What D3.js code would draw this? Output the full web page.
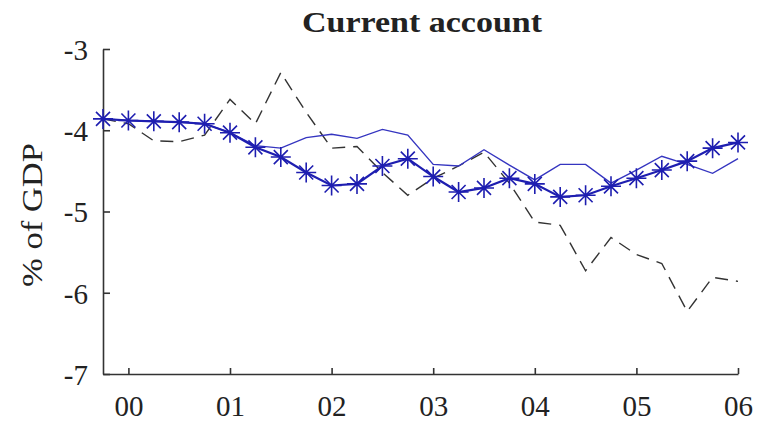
<!DOCTYPE html>
<html>
<head>
<meta charset="utf-8">
<script src="https://d3js.org/d3.v7.min.js"></script>
<style>
  body { margin: 0; background: #fff; }
  text { font-family: "Liberation Serif", "Times New Roman", Times, serif; fill: #222; }
  .axis path, .axis line { stroke: #333; stroke-width: 1.6px; }
</style>
</head>
<body>
<div id="chart"></div>
<script>
// quarterly dates, 1999Q4 .. 2006Q1
const quarters = [1999.75, 2000, 2000.25, 2000.5, 2000.75, 2001, 2001.25, 2001.5, 2001.75,
  2002, 2002.25, 2002.5, 2002.75, 2003, 2003.25, 2003.5, 2003.75, 2004, 2004.25, 2004.5,
  2004.75, 2005, 2005.25, 2005.5, 2005.75, 2006];

// starred blue series
const starSeries = [-3.86, -3.88, -3.89, -3.90, -3.92, -4.03, -4.21, -4.33, -4.52, -4.68,
  -4.66, -4.44, -4.35, -4.57, -4.76, -4.71, -4.59, -4.66, -4.82, -4.80, -4.69, -4.59,
  -4.49, -4.38, -4.22, -4.15];

// thin solid blue series
const solidSeries = [-3.86, -3.88, -3.89, -3.90, -3.92, -4.03, -4.19, -4.22, -4.09, -4.05,
  -4.10, -3.99, -4.06, -4.42, -4.44, -4.24, -4.43, -4.61, -4.42, -4.42, -4.65, -4.49,
  -4.32, -4.42, -4.53, -4.35];

// dashed black series
const dashedSeries = [-3.86, -3.92, -4.13, -4.14, -4.06, -3.62, -3.92, -3.29, -3.78, -4.22,
  -4.20, -4.52, -4.80, -4.59, -4.44, -4.27, -4.65, -5.13, -5.17, -5.73, -5.32, -5.53,
  -5.64, -6.23, -5.81, -5.86];

const xTicks = [2000, 2001, 2002, 2003, 2004, 2005, 2006];
const xTickLabels = ["00", "01", "02", "03", "04", "05", "06"];
const yTicks = [-7, -6, -5, -4, -3];

const W = 762, H = 421;
const margin = {top: 49, right: 24, bottom: 47, left: 103};
const serif = '"Liberation Serif", "Times New Roman", Times, serif';

const svg = d3.select("#chart").append("svg")
  .attr("width", W).attr("height", H);

const x = d3.scaleLinear().domain([1999.75, 2006]).range([margin.left, W - margin.right]);
const y = d3.scaleLinear().domain([-7, -3]).range([H - margin.bottom, margin.top]);

// axes (ticks pointing inward)
const xAxis = svg.append("g").attr("class", "axis")
  .attr("transform", `translate(0, ${y(-7)})`)
  .call(d3.axisBottom(x).tickValues(xTicks).tickSize(-6).tickSizeOuter(0)
    .tickFormat((d, i) => xTickLabels[i]));
xAxis.attr("font-family", serif);
xAxis.selectAll("text").style("font-family", serif)
  .attr("font-size", "29px").attr("dy", "0").attr("y", 42);

const yAxis = svg.append("g").attr("class", "axis")
  .attr("transform", `translate(${x(1999.75)}, 0)`)
  .call(d3.axisLeft(y).tickValues(yTicks).tickSize(-7).tickSizeOuter(0).tickFormat(d => String(d)));
yAxis.attr("font-family", serif);
yAxis.selectAll("text").style("font-family", serif)
  .attr("font-size", "29px").attr("x", -15).attr("dy", "0.36em");
svg.selectAll(".axis .domain").attr("fill", "none");

// lines
const pts = s => quarters.map((q, i) => [q, s[i]]);
const line = d3.line().x(d => x(d[0])).y(d => y(d[1]));

svg.append("path").datum(pts(dashedSeries))
  .attr("d", line).attr("fill", "none")
  .attr("stroke", "#333").attr("stroke-width", 1.4).attr("stroke-dasharray", "13,8");

svg.append("path").datum(pts(solidSeries))
  .attr("d", line).attr("fill", "none")
  .attr("stroke", "#3535c0").attr("stroke-width", 1.4);

svg.append("path").datum(pts(starSeries))
  .attr("d", line).attr("fill", "none")
  .attr("stroke", "#1e1eb0").attr("stroke-width", 2.2);

// asterisk markers
const star = (a, b) => `M${-a},0H${a}M0,${-a}V${a}M${-b},${-b}L${b},${b}M${-b},${b}L${b},${-b}`;
svg.append("g").selectAll("path")
  .data(pts(starSeries))
  .join("path")
    .attr("transform", d => `translate(${x(d[0])}, ${y(d[1])})`)
    .attr("d", star(10, 7))
    .attr("fill", "none")
    .attr("stroke", "#1e1eb0")
    .attr("stroke-width", 1.6);

// title and y label
svg.append("text")
  .style("font-family", serif)
  .attr("x", 422).attr("y", 32)
  .attr("text-anchor", "middle")
  .attr("font-size", "29px").attr("font-weight", "bold")
  .attr("textLength", 240).attr("lengthAdjust", "spacingAndGlyphs")
  .text("Current account");

svg.append("text")
  .style("font-family", serif)
  .attr("transform", "translate(42, 215) rotate(-90)")
  .attr("text-anchor", "middle")
  .attr("font-size", "30px")
  .attr("textLength", 144).attr("lengthAdjust", "spacingAndGlyphs")
  .text("% of GDP");
</script>
</body>
</html>
